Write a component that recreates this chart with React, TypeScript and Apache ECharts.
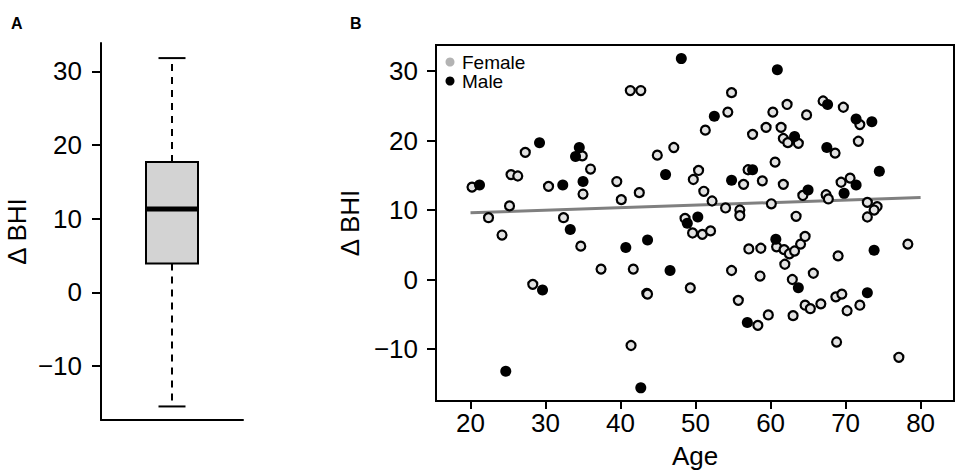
import React, { useEffect, useRef } from "react";
import * as echarts from "echarts";

// Panel A: box plot statistics of Δ BHI [min, Q1, median, Q3, max]
const boxStats = [-15.5, 3.9, 11.3, 17.7, 31.8];

// Panel B: Female points
const femaleAge = [
  20.2, 22.4, 25.2, 25.4, 26.3, 27.3, 30.4, 32.4, 34.9, 36.0, 35.0, 39.5, 40.1, 42.5, 41.3, 42.7,
  44.9, 47.1, 50.4, 49.7, 51.1, 52.2, 54.0, 55.9, 55.9, 48.6, 54.3, 54.8, 51.3, 56.4, 57.0, 57.6,
  58.9, 59.4, 60.3, 60.1, 62.2, 61.4, 61.7, 62.3, 63.7, 64.8, 60.6, 61.7, 63.4, 64.3, 67.0, 69.7,
  68.6, 67.4, 67.7, 69.4, 70.6, 71.9, 71.7, 72.9, 74.2, 73.8, 72.9, 24.2, 28.3, 34.7, 37.4, 41.7,
  43.5, 43.6, 49.3, 41.4, 49.6, 50.9, 52.0, 54.8, 55.7, 57.1, 58.7, 58.6, 58.3, 59.7, 60.8, 61.8,
  62.5, 63.2, 64.0, 64.6, 61.9, 62.9, 65.7, 69.0, 78.3, 63.0, 64.6, 65.3, 66.7, 68.7, 69.5, 70.2,
  71.9, 68.8, 77.1,
];
const femaleDelta = [
  13.3, 8.9, 10.6, 15.1, 14.9, 18.3, 13.4, 8.9, 17.8, 15.9, 12.3, 14.1, 11.5, 12.5, 27.2, 27.2,
  17.9, 19.0, 15.7, 14.4, 12.7, 11.3, 10.3, 10.0, 9.2, 8.8, 24.1, 26.9, 21.5, 13.7, 15.8, 20.9,
  14.2, 21.9, 24.1, 10.9, 25.2, 21.9, 20.3, 19.7, 19.6, 23.7, 16.9, 13.7, 9.1, 12.1, 25.7, 24.8,
  18.2, 12.2, 11.6, 14.0, 14.6, 22.3, 19.9, 11.1, 10.5, 10.0, 9.0, 6.4, -0.7, 4.8, 1.5, 1.5,
  -2.0, -2.1, -1.2, -9.5, 6.7, 6.5, 7.0, 1.3, -3.0, 4.4, 4.5, 0.5, -6.6, -5.1, 4.7, 4.3,
  3.7, 4.1, 5.1, 6.2, 2.2, 0.0, 0.9, 3.4, 5.1, -5.2, -3.7, -4.2, -3.5, -2.5, -2.1, -4.5,
  -3.7, -9.0, -11.2,
];

// Panel B: Male points
const maleAge = [
  21.2, 29.2, 32.3, 33.3, 34.5, 34.0, 35.0, 48.1, 46.0, 50.3, 48.9, 52.5, 54.8, 57.6, 60.9, 63.2,
  65.0, 67.6, 67.5, 69.8, 71.4, 71.4, 73.5, 74.5, 29.6, 24.7, 40.7, 43.6, 46.6, 42.7, 56.9, 60.7,
  63.7, 73.8, 72.9,
];
const maleDelta = [
  13.6, 19.7, 13.6, 7.2, 19.0, 17.7, 14.1, 31.8, 15.1, 9.0, 8.1, 23.5, 14.3, 15.8, 30.2, 20.6,
  12.9, 25.2, 19.0, 12.4, 13.6, 23.1, 22.7, 15.6, -1.5, -13.2, 4.6, 5.7, 1.3, -15.6, -6.2, 5.8,
  -1.2, 4.2, -1.9,
];

// Panel B: fitted regression line endpoints
const trendAge = [20, 80];
const trendDelta = [9.6, 11.8];

// Tick labels
const yTicks = [-10, 0, 10, 20, 30];
const xTicks = [20, 30, 40, 50, 60, 70, 80];

const FONT = '"Liberation Sans", Arial, Helvetica, sans-serif';
const fmt = (v: number) => String(v).replace("-", "\u2212");

export default function App() {
  const ref = useRef<HTMLDivElement>(null);

  useEffect(() => {
    document.body.style.margin = "0";
    if (!ref.current) return;
    const chart = echarts.init(ref.current, null, { renderer: "svg" });

    const femaleData = femaleAge.map((a, i) => [a, femaleDelta[i]]);
    const maleData = maleAge.map((a, i) => [a, maleDelta[i]]);
    const trendData = trendAge.map((a, i) => [a, trendDelta[i]]);

    const axisLineStyle = { color: "#000", width: 2 };
    const labelStyle = { color: "#000", fontSize: 26, fontFamily: FONT };

    const option: any = {
      animation: false,
      backgroundColor: "#fff",
      textStyle: { fontFamily: FONT },
      grid: [
        { left: 101, top: 43, width: 142, height: 377, outerBoundsMode: "none", containLabel: false },
        {
          left: 436, top: 45, width: 518, height: 356, outerBoundsMode: "none", containLabel: false,
          show: true, borderColor: "#000", borderWidth: 2, backgroundColor: "transparent",
        },
      ],
      xAxis: [
        {
          gridIndex: 0, type: "value", min: 0, max: 2,
          axisLine: { show: true, onZero: false, lineStyle: axisLineStyle },
          axisTick: { show: false }, axisLabel: { show: false }, splitLine: { show: false },
        },
        {
          gridIndex: 1, type: "value", min: 15.4, max: 84.45,
          name: "Age", nameLocation: "middle", nameGap: 42,
          nameTextStyle: { ...labelStyle },
          axisLine: { show: true, onZero: false, lineStyle: axisLineStyle },
          axisTick: { show: true, length: 8, lineStyle: axisLineStyle, customValues: xTicks },
          axisLabel: { ...labelStyle, margin: 9, customValues: xTicks, formatter: fmt },
          splitLine: { show: false },
        },
      ],
      yAxis: [
        {
          gridIndex: 0, type: "value", min: -17.34, max: 33.85,
          name: "Δ BHI", nameLocation: "middle", nameGap: 71,
          nameTextStyle: { ...labelStyle },
          axisLine: { show: true, onZero: false, lineStyle: axisLineStyle },
          axisTick: { show: true, length: 9, lineStyle: axisLineStyle, customValues: yTicks },
          axisLabel: { ...labelStyle, margin: 19, customValues: yTicks, formatter: fmt },
          splitLine: { show: false },
        },
        {
          gridIndex: 1, type: "value", min: -17.49, max: 33.76,
          name: "Δ BHI", nameLocation: "middle", nameGap: 70,
          nameTextStyle: { ...labelStyle },
          axisLine: { show: true, onZero: false, lineStyle: axisLineStyle },
          axisTick: { show: true, length: 9, lineStyle: axisLineStyle, customValues: yTicks },
          axisLabel: { ...labelStyle, margin: 18, customValues: yTicks, formatter: fmt },
          splitLine: { show: false },
        },
      ],
      legend: {
        orient: "vertical",
        left: 445.5,
        top: 52.5,
        padding: 0,
        itemWidth: 14,
        itemHeight: 9,
        itemGap: 0,
        textStyle: { fontSize: 19, lineHeight: 19, color: "#000", fontFamily: FONT },
        data: [
          { name: "Female", icon: "circle", itemStyle: { color: "#b3b3b3", borderWidth: 0, borderColor: "transparent" } },
          { name: "Male", icon: "circle", itemStyle: { color: "#000", borderWidth: 0, borderColor: "transparent" } },
        ],
      },
      graphic: [
        { type: "text", left: 11, top: 15, style: { text: "A", fontSize: 16, fontWeight: "bold", fill: "#000", fontFamily: FONT } },
        { type: "text", left: 350, top: 15, style: { text: "B", fontSize: 16, fontWeight: "bold", fill: "#000", fontFamily: FONT } },
      ],
      series: [
        {
          type: "custom",
          xAxisIndex: 0,
          yAxisIndex: 0,
          data: [[1, ...boxStats]],
          renderItem: (params: any, api: any) => {
            const xv = api.value(0);
            const cx = api.coord([xv, api.value(1)])[0];
            const yMin = api.coord([xv, api.value(1)])[1];
            const yQ1 = api.coord([xv, api.value(2)])[1];
            const yMed = api.coord([xv, api.value(3)])[1];
            const yQ3 = api.coord([xv, api.value(4)])[1];
            const yMax = api.coord([xv, api.value(5)])[1];
            const halfBox = 26;
            const halfCap = 13.5;
            const lineStyle = { stroke: "#000", lineWidth: 2 };
            return {
              type: "group",
              children: [
                { type: "line", shape: { x1: cx, y1: yQ3, x2: cx, y2: yMax }, style: { ...lineStyle, lineDash: [7, 6] } },
                { type: "line", shape: { x1: cx, y1: yQ1, x2: cx, y2: yMin }, style: { ...lineStyle, lineDash: [7, 6] } },
                { type: "line", shape: { x1: cx - halfCap, y1: yMax, x2: cx + halfCap, y2: yMax }, style: lineStyle },
                { type: "line", shape: { x1: cx - halfCap, y1: yMin, x2: cx + halfCap, y2: yMin }, style: lineStyle },
                {
                  type: "rect",
                  shape: { x: cx - halfBox, y: yQ3, width: halfBox * 2, height: yQ1 - yQ3 },
                  style: { fill: "#d3d3d3", stroke: "#000", lineWidth: 2 },
                },
                { type: "line", shape: { x1: cx - halfBox, y1: yMed, x2: cx + halfBox, y2: yMed }, style: { stroke: "#000", lineWidth: 5 } },
              ],
            };
          },
        },
        {
          name: "Trend",
          type: "line",
          xAxisIndex: 1,
          yAxisIndex: 1,
          data: trendData,
          showSymbol: false,
          symbol: "none",
          lineStyle: { color: "#808080", width: 3 },
          z: 1,
        },
        {
          name: "Female",
          type: "scatter",
          xAxisIndex: 1,
          yAxisIndex: 1,
          data: femaleData,
          symbol: "circle",
          symbolSize: 9,
          itemStyle: { color: "#e2e2e2", borderColor: "#000", borderWidth: 2.2, opacity: 1 },
          z: 2,
        },
        {
          name: "Male",
          type: "scatter",
          xAxisIndex: 1,
          yAxisIndex: 1,
          data: maleData,
          symbol: "circle",
          symbolSize: 11,
          itemStyle: { color: "#000", borderWidth: 0, opacity: 1 },
          z: 3,
        },
      ],
    };

    chart.setOption(option);
    return () => chart.dispose();
  }, []);

  return <div ref={ref} style={{ width: 957, height: 474 }} />;
}
